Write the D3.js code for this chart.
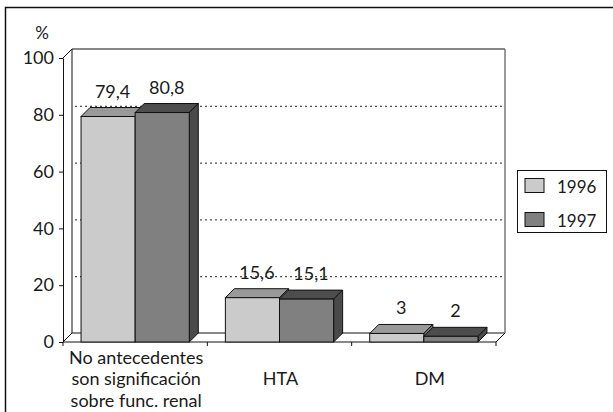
<!DOCTYPE html>
<html>
<head>
<meta charset="utf-8">
<script src="https://cdn.jsdelivr.net/npm/d3@7"></script>
<style>
  body { margin: 0; background: #fff; }
  text { font-family: Lato, "Open Sans", sans-serif; fill: #1a1a1a; }
</style>
</head>
<body>
<div id="chart"></div>
<script>
var categories = ["No antecedentes son significación sobre func. renal", "HTA", "DM"];
var categoryLines = [["No antecedentes", "son significación", "sobre func. renal"], ["HTA"], ["DM"]];
var series = ["1996", "1997"];
var values1996 = [79.4, 15.6, 3];
var values1997 = [80.8, 15.1, 2];
var yTicks = [0, 20, 40, 60, 80, 100];

var width = 613, height = 412;
var plotL = 63, plotR = 496, plotB = 342, plotT = 58;
var dx = 9, dy = -9;

var fronts = { "1996": "#cbcbcb", "1997": "#808080" };
var tops = { "1996": "#999999", "1997": "#4d4d4d" };
var sides = { "1996": "#7a7a7a", "1997": "#4a4a4a" };

var svg = d3.select("#chart").append("svg")
    .attr("width", width)
    .attr("height", height);

// frame (only top and left visible)
svg.append("path")
    .attr("d", "M5.5,412V7.5H613")
    .attr("fill", "none")
    .attr("stroke", "#111")
    .attr("stroke-width", 1.5);

var y = d3.scaleLinear().domain([0, 100]).range([plotB, plotT]);
var x0 = d3.scaleBand().domain(categories).range([plotL, plotR])
    .paddingInner(0.25).paddingOuter(0.125);
var x1 = d3.scaleBand().domain(series).range([0, x0.bandwidth()]);

// floor
svg.append("polygon")
    .attr("points", [[plotL, plotB], [plotR, plotB], [plotR + dx, plotB + dy], [plotL + dx, plotB + dy]].join(" "))
    .attr("fill", "#fff")
    .attr("stroke", "#111");

// back wall
svg.append("path")
    .attr("d", "M" + (plotL + dx) + "," + (plotB + dy) + "V" + (y(100) + dy) + "H" + (plotR + dx))
    .attr("fill", "none")
    .attr("stroke", "#111");
svg.append("line")
    .attr("x1", plotR + dx).attr("x2", plotR + dx)
    .attr("y1", y(100) + dy).attr("y2", plotB + dy)
    .attr("stroke", "#777").attr("stroke-width", 1.5);
svg.append("line")
    .attr("x1", plotL).attr("y1", y(100))
    .attr("x2", plotL + dx).attr("y2", y(100) + dy)
    .attr("stroke", "#111");

// dotted gridlines on back wall
svg.selectAll(".grid")
    .data(yTicks.filter(function (d) { return d > 0 && d < 100; }))
    .enter().append("line")
    .attr("class", "grid")
    .attr("x1", plotL + dx + 3).attr("x2", plotR + dx)
    .attr("y1", function (d) { return y(d) + dy + 0.5; })
    .attr("y2", function (d) { return y(d) + dy + 0.5; })
    .attr("stroke", "#222")
    .attr("stroke-dasharray", "2,3");

// y axis
var yAxis = svg.append("g")
    .attr("transform", "translate(" + plotL + ",0)")
    .call(d3.axisLeft(y).tickValues(yTicks).tickSize(4).tickSizeOuter(0).tickPadding(5));
yAxis.selectAll("text").style("font-size", "18px").attr("fill", "#1a1a1a");
yAxis.selectAll("line, path").attr("stroke", "#111");

svg.append("text")
    .attr("x", 42).attr("y", 39)
    .attr("text-anchor", "middle")
    .style("font-size", "17px")
    .text("%");

// x ticks at category boundaries
var bounds = [plotL].concat(categories.map(function (c) {
    return x0(c) + x0.bandwidth() + x0.step() * x0.paddingInner() / 2;
}));
bounds[bounds.length - 1] = plotR;
svg.selectAll(".xtick")
    .data(bounds)
    .enter().append("line")
    .attr("x1", function (d) { return d; }).attr("x2", function (d) { return d; })
    .attr("y1", plotB).attr("y2", plotB + 4)
    .attr("stroke", "#111");

// bars
var bars = [];
categories.forEach(function (c, i) {
    bars.push({ cat: c, s: "1996", v: values1996[i] });
    bars.push({ cat: c, s: "1997", v: values1997[i] });
});

var g = svg.selectAll(".bar")
    .data(bars)
    .enter().append("g")
    .attr("class", "bar");

function bx(d) { return x0(d.cat) + x1(d.s); }
var bw = x1.bandwidth();

g.append("polygon")
    .attr("points", function (d) {
        var x = bx(d), t = y(d.v);
        return [[x, t], [x + dx, t + dy], [x + bw + dx, t + dy], [x + bw, t]].join(" ");
    })
    .attr("fill", function (d) { return tops[d.s]; })
    .attr("stroke", "#111").attr("stroke-linejoin", "round");

g.append("polygon")
    .attr("points", function (d) {
        var x = bx(d) + bw, t = y(d.v);
        return [[x, t], [x + dx, t + dy], [x + dx, plotB + dy], [x, plotB]].join(" ");
    })
    .attr("fill", function (d) { return sides[d.s]; })
    .attr("stroke", "#111").attr("stroke-linejoin", "round");

g.append("rect")
    .attr("x", bx)
    .attr("y", function (d) { return y(d.v); })
    .attr("width", bw)
    .attr("height", function (d) { return plotB - y(d.v); })
    .attr("fill", function (d) { return fronts[d.s]; })
    .attr("stroke", "#111");

// value labels
svg.selectAll(".val")
    .data(bars)
    .enter().append("text")
    .attr("class", "val")
    .attr("x", function (d) { return bx(d) + bw / 2 + dx / 2; })
    .attr("y", function (d) { return y(d.v) + dy - 10; })
    .attr("text-anchor", "middle")
    .style("font-size", "18px")
    .text(function (d) { return String(d.v).replace(".", ","); });

// category labels
var lineH = 21.5;
svg.selectAll(".cat")
    .data(categories)
    .enter().append("text")
    .attr("class", "cat")
    .attr("text-anchor", "middle")
    .style("font-size", "18px")
    .each(function (c, i) {
        var lines = categoryLines[i];
        var cx = x0(c) + x0.bandwidth() / 2 + (i === 2 ? 6 : 1);
        var y0 = 379 - (lines.length - 1) * lineH / 2 + 6;
        d3.select(this).selectAll("tspan")
            .data(lines)
            .enter().append("tspan")
            .attr("x", cx)
            .attr("y", function (d, j) { return y0 + j * lineH; })
            .text(function (d) { return d; });
    });

// legend
var legend = svg.append("g").attr("transform", "translate(517,170)");
legend.append("rect")
    .attr("x", 0.5).attr("y", 0.5)
    .attr("width", 89).attr("height", 62)
    .attr("fill", "#fff").attr("stroke", "#111");
var item = legend.selectAll(".item")
    .data(series)
    .enter().append("g")
    .attr("transform", function (d, i) { return "translate(8," + (8.5 + i * 34) + ")"; });
item.append("rect")
    .attr("width", 19).attr("height", 14)
    .attr("fill", function (d) { return fronts[d]; })
    .attr("stroke", "#111");
item.append("text")
    .attr("x", 32).attr("y", 14)
    .style("font-size", "17px")
    .text(function (d) { return d; });
</script>
</body>
</html>
